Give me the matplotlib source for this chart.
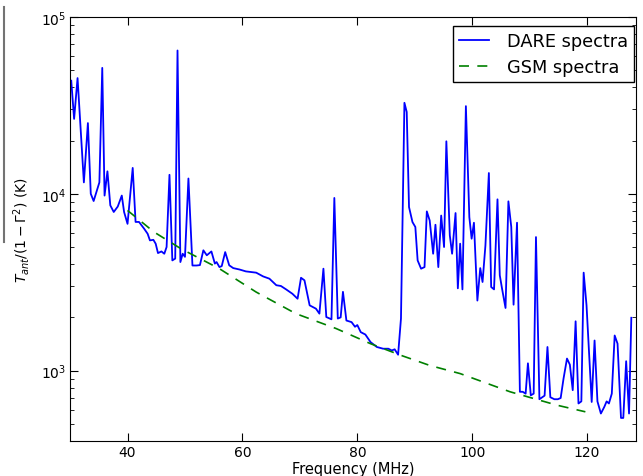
import matplotlib
matplotlib.use("Agg")
import matplotlib.pyplot as plt
from matplotlib.lines import Line2D

# DARE spectrum (MHz, K)
dare_freq = [30.2, 30.7, 31.3, 32.4, 33.1, 33.6, 34.1, 35.1, 35.6, 36.0, 36.5, 37.0,
             37.6, 38.3, 39.0, 39.4, 40.0, 40.9, 41.4, 42.0, 42.9, 43.5, 43.9, 44.5,
             44.9, 45.3, 45.9, 46.4, 46.8, 47.3, 47.8, 48.3, 48.7, 49.2, 49.6, 50.0,
             50.6, 51.3, 52.0, 52.6, 53.2, 53.8, 54.6, 55.2, 55.5, 56.0, 56.4, 57.0,
             57.7, 58.4, 59.5, 60.6, 62.4, 63.6, 64.7, 65.9, 66.7, 67.6, 68.7, 69.6,
             70.2, 70.8, 71.7, 72.8, 73.4, 74.1, 74.6, 75.5, 76.0, 76.6, 77.1, 77.5,
             78.1, 79.0, 79.6, 80.0, 80.6, 81.4, 82.3, 83.4, 84.5, 85.4, 86.0, 86.5,
             87.1, 87.6, 88.2, 88.6, 89.0, 89.6, 90.1, 90.5, 91.1, 91.7, 92.1, 92.6,
             93.2, 93.6, 94.1, 94.6, 95.1, 95.5, 96.1, 96.5, 97.1, 97.5, 97.9, 98.3,
             98.9, 99.5, 99.9, 100.3, 100.9, 101.4, 101.8, 102.3, 102.9, 103.3, 103.8,
             104.4, 104.8, 105.2, 105.8, 106.3, 106.8, 107.2, 107.8, 108.3, 108.8,
             109.3, 109.7, 110.2, 110.7, 111.1, 111.7, 112.6, 113.1, 113.6, 114.3,
             114.9, 115.4, 115.9, 116.5, 117.0, 117.5, 118.0, 118.5, 119.0, 119.4,
             119.9, 120.4, 120.8, 121.3, 121.8, 122.4, 123.0, 123.4, 123.8, 124.3,
             124.8, 125.3, 125.9, 126.3, 126.8, 127.3, 127.7]
dare_temp = [43600, 26500, 45100, 11600, 25100, 10000, 9100, 11600, 51500, 9770, 13400, 8600,
             7890, 8470, 9770, 7890, 6760, 14000, 6930, 6930, 6340, 5940, 5450, 5490,
             5220, 4620, 4720, 4580, 5000, 12800, 4200, 4300, 64600, 4110, 4580, 4400,
             12200, 3930, 3930, 3950, 4790, 4490, 4720, 4030, 4110, 3850, 3900, 4680,
             3940, 3800, 3730, 3640, 3580, 3410, 3310, 3040, 3010, 2880, 2720, 2550,
             3350, 3240, 2340, 2240, 2100, 3770, 2010, 1950, 9470, 1970, 2000, 2790,
             1920, 1880, 1770, 1810, 1650, 1600, 1450, 1360, 1330, 1330, 1300, 1320,
             1230, 1970, 32700, 29000, 8410, 6920, 6490, 4200, 3770, 3850, 7950, 7060,
             4580, 6680, 3850, 7530, 5000, 19800, 5820, 4580, 7780, 2920, 5220, 2880,
             31300, 7380, 5570, 6860, 2490, 3800, 3170, 5100, 13100, 2970, 2880,
             9300, 3460, 2900, 2260, 9060, 6490, 2360, 6860, 759, 759,
             741, 1100, 725, 741, 5690, 689, 722, 1360, 707, 689,
             689, 700, 902, 1170, 1080, 775, 1900, 652, 670, 3580,
             2340, 1170, 665, 1480, 670, 572, 624, 670, 652, 741,
             1580, 1420, 540, 540, 1130, 572, 1990]

# GSM model spectrum
gsm_freq = [40.0, 44.6, 49.3, 56.0, 62.4, 69.3, 76.3, 82.3, 87.6, 92.6, 97.9, 106.6, 114.8, 119.7]
gsm_temp = [8050, 6080, 4890, 3770, 2780, 2100, 1730, 1420, 1220, 1070, 962, 759, 637, 585]

fig = plt.figure(figsize=(6.43, 4.77), dpi=100)
ax = fig.add_axes([0.109, 0.0734, 0.88, 0.889])

ax.plot(dare_freq, dare_temp, color="b", lw=1.3, label="DARE spectra")
ax.plot(gsm_freq, gsm_temp, color="g", lw=1.2, ls="--", dashes=(6, 5), label="GSM spectra")

ax.set_yscale("log")
ax.set_xlim(30, 128.5)
ax.set_ylim(400, 1e5)
ax.set_xticks([40, 60, 80, 100, 120])

ax.tick_params(which="both", direction="in", top=True, right=True, labelsize=10, pad=3)
ax.tick_params(which="major", length=6)
ax.tick_params(which="minor", length=3)

ax.set_xlabel("Frequency (MHz)", fontsize=10.5, labelpad=1)
ax.set_ylabel(r"$T_{ant}/(1-\Gamma^2)$ (K)", fontsize=10, labelpad=6)

leg = ax.legend(loc="upper right", bbox_to_anchor=(0.9965, 0.979), borderaxespad=0,
                fontsize=12.8, fancybox=False, handlelength=1.65, handletextpad=1.0,
                labelspacing=0.45, borderpad=0.35, framealpha=1)
leg.get_frame().set_edgecolor("black")

# thin grey edge left over from the original crop
fig.add_artist(Line2D([4 / 643, 4 / 643], [1 - 8 / 477, 1 - 243 / 477],
                      color="0.45", lw=1.5, transform=fig.transFigure))

fig.savefig("out.png", dpi=100)
